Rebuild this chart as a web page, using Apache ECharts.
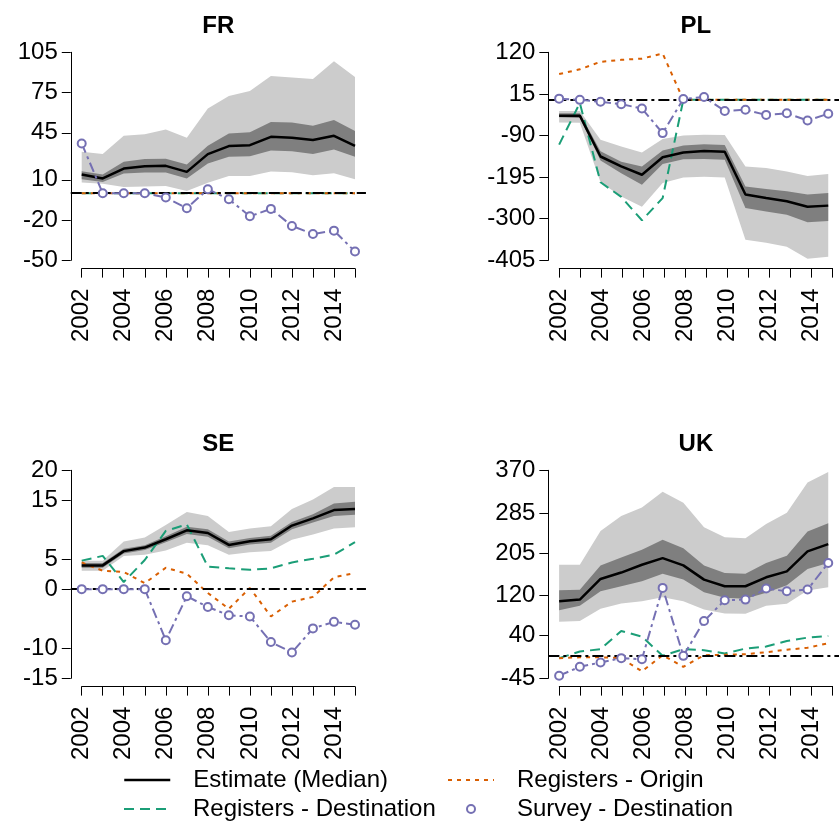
<!DOCTYPE html>
<html>
<head>
<meta charset="utf-8">
<script src="https://cdn.jsdelivr.net/npm/echarts@6/dist/echarts.min.js"></script>
<style>
  html, body { margin: 0; padding: 0; background: #fff; }
  #chart { width: 839px; height: 825px; }
</style>
</head>
<body>
<div id="chart"></div>
<script>
// Years on the horizontal axis and the ones that carry a label
const years = [2002, 2003, 2004, 2005, 2006, 2007, 2008, 2009, 2010, 2011, 2012, 2013, 2014, 2015];
const yearLabels = [2002, 2004, 2006, 2008, 2010, 2012, 2014];

// France
const frTicks = [-50, -20, 10, 45, 75, 105];
const frMedian = [14.0, 11.0, 18.4, 20.1, 20.4, 15.9, 29.1, 35.1, 35.8, 42.0, 41.3, 39.6, 42.8, 35.3];
const frInnerLow = [10.4, 8.4, 14.7, 15.4, 15.4, 11.0, 22.1, 27.1, 27.6, 31.8, 31.3, 29.3, 32.6, 27.1];
const frInnerHigh = [16.4, 14.0, 23.4, 25.4, 25.6, 21.4, 35.3, 44.5, 45.5, 53.0, 52.7, 50.2, 54.5, 46.3];
const frOuterLow = [8.0, 7.0, 4.7, 5.0, 5.4, 1.7, 7.7, 12.9, 12.9, 16.2, 15.7, 13.4, 14.9, 10.4];
const frOuterHigh = [30.8, 29.3, 42.8, 44.0, 47.5, 41.3, 63.2, 72.4, 76.1, 87.3, 86.3, 85.1, 98.3, 86.6];
const frDest = [0, 0, 0, 0, 0, 0, 0, 0, 0, 0, 0, 0, 0, 0];
const frOrigin = [0, 0, 0, 0, 0, 0, 0, 0, 0, 0, 0, 0, 0, 0];
const frSurvey = [37.1, 0, 0, 0, -3.2, -11.2, 3.0, -4.5, -17.2, -11.7, -24.4, -30.4, -27.9, -43.5];

// Poland
const plTicks = [-405, -300, -195, -90, 15, 120];
const plMedian = [-40, -40, -143, -168, -189, -145, -133, -129, -131, -239, -248, -256, -270, -267];
const plInnerLow = [-44, -46, -153, -185, -214, -162, -150, -149, -151, -273, -282, -290, -309, -306];
const plInnerHigh = [-34, -34, -130, -156, -168, -128, -115, -112, -114, -219, -225, -231, -239, -235];
const plOuterLow = [-57, -58, -208, -244, -270, -210, -196, -194, -196, -353, -361, -371, -401, -396];
const plOuterHigh = [-28, -28, -101, -118, -133, -99, -90, -88, -89, -168, -172, -181, -192, -187];
const plDest = [-113, -8, -208, -245, -304, -248, 0, 0, 0, 0, 0, 0, 0, 0];
const plOrigin = [65, 77, 96, 101, 104, 117, 0, 0, 0, 0, 0, 0, 0, 0];
const plSurvey = [3, 0, -5, -11, -22, -84, 2, 7, -28, -25, -38, -34, -52, -35];

// Sweden
const seTicks = [-15, -10, 0, 5, 15, 20];
const seMedian = [4.0, 4.0, 6.4, 7.0, 8.4, 9.9, 9.45, 7.44, 8.05, 8.4, 10.7, 11.9, 13.3, 13.5];
const seInnerLow = [3.6, 3.6, 6.0, 6.6, 7.9, 9.3, 8.8, 6.9, 7.5, 7.8, 10.1, 11.2, 12.3, 12.5];
const seInnerHigh = [4.4, 4.4, 6.8, 7.4, 8.9, 10.5, 10.1, 8.0, 8.6, 9.0, 11.3, 12.6, 14.4, 14.7];
const seOuterLow = [3.1, 3.1, 5.6, 5.8, 6.5, 7.8, 7.4, 5.8, 6.2, 6.4, 8.3, 9.2, 10.2, 10.4];
const seOuterHigh = [4.8, 4.8, 8.0, 8.7, 10.8, 13.0, 12.3, 9.6, 10.2, 10.6, 13.5, 15.1, 17.2, 17.2];
const seDest = [4.8, 5.6, 1.2, 4.9, 9.8, 10.9, 3.8, 3.5, 3.25, 3.5, 4.5, 5.1, 5.8, 7.9];
const seOrigin = [4.5, 3.1, 2.9, 1.0, 3.6, 2.6, -0.65, -3.3, 0.2, -4.6, -2.1, -1.3, 2.0, 2.7];
const seSurvey = [0, 0, 0, 0, -8.6, -1.2, -3.0, -4.4, -4.6, -8.9, -10.65, -6.6, -5.5, -6.0];

// United Kingdom
const ukTicks = [-45, 40, 120, 205, 285, 370];
const ukMedian = [108.9, 112, 153.2, 166, 181.6, 194.8, 180.3, 151.9, 138.7, 138.7, 156.5, 168.4, 208.1, 222.6];
const ukInnerLow = [91, 99.7, 128.7, 138.7, 148.6, 163.8, 151.9, 126.8, 115.5, 113.5, 125.5, 140.6, 173, 185];
const ukInnerHigh = [130.7, 131.7, 180.3, 196.2, 211.4, 231.2, 214.7, 180.3, 165.1, 163.8, 185, 199.5, 247.7, 264.2];
const ukOuterLow = [68, 69.3, 93.7, 104.3, 108.9, 116.8, 108.9, 92.4, 84.5, 84, 99.7, 103.6, 130.1, 136.7];
const ukOuterHigh = [181.6, 181.6, 249, 278.8, 296, 327, 305.2, 256.3, 236.5, 234.5, 262.9, 285.4, 345.5, 366.7];
const ukDest = [-4.8, 8.4, 13.1, 49.4, 38.2, 0, 13.1, 11.1, 4.5, 14.4, 18.4, 29.6, 36.2, 39.5];
const ukOrigin = [-5, -3, -3, -5, -31, 1, -22, 1, 2, 3, 7, 12, 16, 25];
const ukSurvey = [-39.8, -22, -13.4, -4.8, -6.8, 135.4, -0.2, 69.3, 110.9, 112, 134, 128.7, 132, 184.9];

const panels = [
  { name: 'FR', col: 0, row: 0, ticks: frTicks, median: frMedian, innerLow: frInnerLow, innerHigh: frInnerHigh,
    outerLow: frOuterLow, outerHigh: frOuterHigh, dest: frDest, origin: frOrigin, survey: frSurvey },
  { name: 'PL', col: 1, row: 0, ticks: plTicks, median: plMedian, innerLow: plInnerLow, innerHigh: plInnerHigh,
    outerLow: plOuterLow, outerHigh: plOuterHigh, dest: plDest, origin: plOrigin, survey: plSurvey },
  { name: 'SE', col: 0, row: 1, ticks: seTicks, median: seMedian, innerLow: seInnerLow, innerHigh: seInnerHigh,
    outerLow: seOuterLow, outerHigh: seOuterHigh, dest: seDest, origin: seOrigin, survey: seSurvey },
  { name: 'UK', col: 1, row: 1, ticks: ukTicks, median: ukMedian, innerLow: ukInnerLow, innerHigh: ukInnerHigh,
    outerLow: ukOuterLow, outerHigh: ukOuterHigh, dest: ukDest, origin: ukOrigin, survey: ukSurvey }
];

const NAMES = {
  median: 'Estimate (Median)',
  origin: 'Registers - Origin',
  dest: 'Registers - Destination',
  survey: 'Survey - Destination'
};
const COLORS = { median: '#000000', dest: '#1b9e77', origin: '#d95f02', survey: '#7570b3', light: '#cccccc', dark: '#7f7f7f' };
const DASH = { dest: [10, 6], origin: [4, 5], survey: [10, 4, 3, 4], zero: [11, 4, 3, 4] };
const FONT = "'Liberation Sans', Arial, Helvetica, sans-serif";

// Panel frame: the box spanned by the first/last year and the lowest/highest tick
const FRAME = { left: 81.7, top: 52.3, width: 273.3, height: 208 };
const COL_DX = 477.6, ROW_DY = 418;
const PAD = 0.04; // plotting region extends 4% past the frame on every side

const grid = [], xAxis = [], yAxis = [], series = [], title = [];
const pairs = vals => years.map((y, k) => [y, vals[k]]);

function bandSeries(axisIndex, lo, hi, color) {
  return {
    type: 'custom', xAxisIndex: axisIndex, yAxisIndex: axisIndex, silent: true, z: 1, clip: false,
    data: years.map((y, k) => [y, lo[k], hi[k]]),
    encode: { x: 0, y: [1, 2] },
    renderItem(params, api) {
      if (params.dataIndex !== 0) return;
      const pts = [];
      for (let k = 0; k < years.length; k++) pts.push(api.coord([years[k], hi[k]]));
      for (let k = years.length - 1; k >= 0; k--) pts.push(api.coord([years[k], lo[k]]));
      return { type: 'polygon', shape: { points: pts }, style: { fill: color } };
    }
  };
}

panels.forEach((p, i) => {
  const left = FRAME.left + p.col * COL_DX;
  const top = FRAME.top + p.row * ROW_DY;
  const w = FRAME.width, h = FRAME.height;
  const yMin = Math.min(...p.ticks), yMax = Math.max(...p.ticks);
  const xMin = years[0], xMax = years[years.length - 1];
  const xPad = (xMax - xMin) * PAD, yPad = (yMax - yMin) * PAD;
  const a = 2 * i, b = 2 * i + 1;

  // plotting region (data lives here)
  grid.push({ left: left - w * PAD, top: top - h * PAD, width: w * (1 + 2 * PAD), height: h * (1 + 2 * PAD) });
  // frame that carries the visible axes
  grid.push({ left: left, top: top, width: w, height: h });

  xAxis.push({ gridIndex: a, type: 'value', min: xMin - xPad, max: xMax + xPad, show: false });
  yAxis.push({ gridIndex: a, type: 'value', min: yMin - yPad, max: yMax + yPad, show: false });

  xAxis.push({
    gridIndex: b, type: 'value', min: xMin, max: xMax, position: 'bottom', offset: h * PAD,
    axisLine: { show: true, onZero: false, lineStyle: { color: '#000', width: 1 } },
    axisTick: { show: true, length: 9, customValues: years, lineStyle: { color: '#000', width: 1 } },
    axisLabel: { show: true, customValues: yearLabels, rotate: 90, margin: 20, fontSize: 24, color: '#000',
                 fontFamily: FONT, formatter: v => String(v) },
    splitLine: { show: false }
  });
  yAxis.push({
    gridIndex: b, type: 'value', min: yMin, max: yMax, position: 'left', offset: w * PAD,
    axisLine: { show: true, onZero: false, lineStyle: { color: '#000', width: 1 } },
    axisTick: { show: true, length: 9, customValues: p.ticks, lineStyle: { color: '#000', width: 1 } },
    axisLabel: { show: true, customValues: p.ticks, margin: 13, fontSize: 24, color: '#000',
                 fontFamily: FONT, formatter: v => String(v) },
    splitLine: { show: false }
  });

  title.push({
    text: p.name, left: left + w / 2, top: top - 38, textAlign: 'center', padding: 0,
    textStyle: { fontSize: 24, fontWeight: 'bold', color: '#000', fontFamily: FONT, lineHeight: 24 }
  });

  // uncertainty bands
  series.push(bandSeries(a, p.outerLow, p.outerHigh, COLORS.light));
  series.push(bandSeries(a, p.innerLow, p.innerHigh, COLORS.dark));

  const lineBase = { type: 'line', xAxisIndex: a, yAxisIndex: a, symbol: 'none', clip: false, silent: true };
  series.push({ ...lineBase, name: NAMES.dest, z: 2, data: pairs(p.dest),
    lineStyle: { color: COLORS.dest, width: 2, type: DASH.dest }, itemStyle: { color: COLORS.dest } });
  series.push({ ...lineBase, name: NAMES.origin, z: 2, data: pairs(p.origin),
    lineStyle: { color: COLORS.origin, width: 2, type: DASH.origin }, itemStyle: { color: COLORS.origin } });
  series.push({ ...lineBase, name: NAMES.median, z: 4, data: pairs(p.median),
    lineStyle: { color: COLORS.median, width: 2.5 }, itemStyle: { color: COLORS.median },
    markLine: {
      silent: true, symbol: ['none', 'none'], label: { show: false },
      lineStyle: { color: '#000', width: 2, type: DASH.zero },
      data: [{ yAxis: 0 }]
    } });
  series.push({ ...lineBase, name: NAMES.survey, z: 6, data: pairs(p.survey),
    symbol: 'emptyCircle', symbolSize: 8, showSymbol: true,
    lineStyle: { color: COLORS.survey, width: 2, type: DASH.survey },
    itemStyle: { color: COLORS.survey, borderWidth: 2 } });
});

const legendText = { fontSize: 24, color: '#000', fontFamily: FONT, lineHeight: 24, padding: [0, 0, 0, 18] };
const legendBase = { padding: 0, itemWidth: 46, itemHeight: 8, selectedMode: false, textStyle: legendText };
const legend = [
  { ...legendBase, left: 123, top: 768, data: [{ name: NAMES.median, itemStyle: { opacity: 0 },
      lineStyle: { color: COLORS.median, width: 2.5, type: 'solid' } }] },
  { ...legendBase, left: 447, top: 768, data: [{ name: NAMES.origin, itemStyle: { opacity: 0 },
      lineStyle: { color: COLORS.origin, width: 2, type: DASH.origin } }] },
  { ...legendBase, left: 123, top: 797, data: [{ name: NAMES.dest, itemStyle: { opacity: 0 },
      lineStyle: { color: COLORS.dest, width: 2, type: DASH.dest } }] },
  { ...legendBase, left: 466, top: 797, data: [{ name: NAMES.survey, icon: 'emptyCircle',
      itemStyle: { color: COLORS.survey } }] }
];

const chart = echarts.init(document.getElementById('chart'), null, { renderer: 'canvas' });
chart.setOption({
  backgroundColor: '#ffffff',
  animation: false,
  textStyle: { fontFamily: FONT },
  title, legend, grid, xAxis, yAxis, series
});
</script>
</body>
</html>
